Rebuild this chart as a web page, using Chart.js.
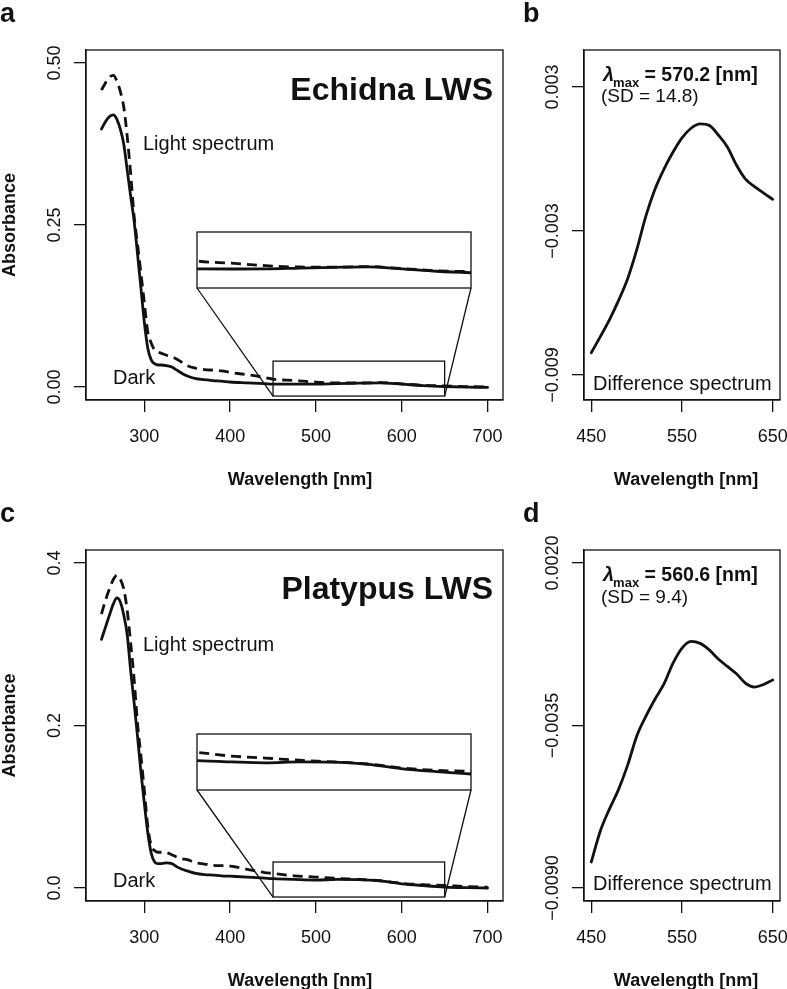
<!DOCTYPE html>
<html>
<head>
<meta charset="utf-8">
<title>LWS absorbance spectra</title>
<script src="https://cdn.jsdelivr.net/npm/chart.js@4.4.0/dist/chart.umd.min.js"></script>
<style>
  html, body { margin: 0; padding: 0; background: #fff; }
  #fig { position: relative; width: 787px; height: 989px; overflow: hidden; background: #fff; }
  #fig canvas { position: absolute; }
</style>
</head>
<body>
<div id="fig">
  <canvas id="pa" width="520" height="495" style="left:0px;top:0px"></canvas>
  <canvas id="pb" width="267" height="495" style="left:520px;top:0px"></canvas>
  <canvas id="pc" width="520" height="489" style="left:0px;top:500px"></canvas>
  <canvas id="pd" width="267" height="489" style="left:520px;top:500px"></canvas>
</div>
<script>
// wavelength grid (nm) for the full absorbance spectra
const WL = [250, 255, 260, 264, 268, 272, 276, 280, 284, 288, 292, 296, 300, 304, 308, 312, 316, 320, 326, 332,
            338, 344, 350, 360, 370, 380, 390, 400, 420, 440, 450, 475, 500, 525, 550, 575, 600, 625, 650, 675, 700];

// panel a - echidna LWS
const ECHIDNA_DARK = [0.398, 0.410, 0.418, 0.420, 0.413, 0.398, 0.375, 0.335, 0.295, 0.257, 0.206, 0.153, 0.100, 0.060,
                      0.042, 0.036, 0.034, 0.034, 0.033, 0.031, 0.026, 0.021, 0.017, 0.013, 0.0115, 0.010, 0.009,
                      0.0078, 0.0065, 0.0052, 0.0045, 0.0044, 0.0045, 0.0053, 0.0060, 0.0065, 0.0045, 0.0022,
                      0.0008, 0.0000, -0.0005];
const ECHIDNA_LIGHT = [0.458, 0.470, 0.479, 0.481, 0.472, 0.456, 0.432, 0.387, 0.330, 0.265, 0.221, 0.176, 0.130, 0.085,
                       0.068, 0.057, 0.054, 0.052, 0.049, 0.047, 0.043, 0.038, 0.033, 0.029, 0.027, 0.026, 0.025,
                       0.0225, 0.019, 0.0148, 0.0121, 0.0100, 0.0076, 0.0063, 0.0062, 0.0067, 0.0048, 0.0027,
                       0.0018, 0.0007, 0.0002];

// panel c - platypus LWS
const PLATYPUS_DARK = [0.306, 0.322, 0.338, 0.350, 0.357, 0.352, 0.336, 0.312, 0.268, 0.229, 0.187, 0.143, 0.104, 0.068,
                       0.043, 0.032, 0.030, 0.030, 0.031, 0.030, 0.026, 0.023, 0.021, 0.018, 0.0165, 0.0158, 0.015,
                       0.0145, 0.0135, 0.0122, 0.0115, 0.0105, 0.0098, 0.0105, 0.0103, 0.0087, 0.0052, 0.0030,
                       0.0012, 0.0004, 0.0000];
const PLATYPUS_LIGHT = [0.337, 0.355, 0.370, 0.380, 0.385, 0.380, 0.368, 0.342, 0.302, 0.258, 0.203, 0.163, 0.120, 0.076,
                        0.052, 0.046, 0.044, 0.044, 0.0435, 0.041, 0.038, 0.036, 0.035, 0.031, 0.0295, 0.028, 0.0275,
                        0.027, 0.023, 0.019, 0.0179, 0.0150, 0.0135, 0.0118, 0.0105, 0.0089, 0.0058, 0.0040,
                        0.0032, 0.0018, 0.0010];

// panels b, d - difference spectra
const WL_DIFF = [450, 460, 470, 480, 490, 500, 510, 520, 530, 540, 550, 560, 570, 580, 590, 600, 610, 620, 630, 640, 650];
const ECHIDNA_DIFF = [-0.00807, -0.0074, -0.0067, -0.0059, -0.0050, -0.0038, -0.0024, -0.00128, -0.00043, 0.00028,
                      0.00088, 0.00128, 0.00146, 0.0014, 0.0010, 0.0005, -0.00025, -0.00084, -0.00115, -0.00142, -0.00168];
const PLATYPUS_DIFF = [-0.00812, -0.00707, -0.00633, -0.00567, -0.00485, -0.00387, -0.0032, -0.00262, -0.0021, -0.0014,
                       -0.00088, -0.00065, -0.00072, -0.00094, -0.00125, -0.0015, -0.00175, -0.00207, -0.0022, -0.00211, -0.00196];

// axes
const X_TICKS_FULL = [300, 400, 500, 600, 700];
const X_TICKS_DIFF = [450, 550, 650];
const Y_TICKS_A = [0, 0.25, 0.5];
const Y_LABELS_A = ['0.00', '0.25', '0.50'];
const Y_TICKS_B = [-0.009, -0.003, 0.003];
const Y_LABELS_B = ['\u22120.009', '\u22120.003', '0.003'];
const Y_TICKS_C = [0, 0.2, 0.4];
const Y_LABELS_C = ['0.0', '0.2', '0.4'];
const Y_TICKS_D = [-0.009, -0.0035, 0.002];
const Y_LABELS_D = ['\u22120.0090', '\u22120.0035', '0.0020'];

// zoomed window (data units) and where its enlargement sits (data units of the main panel)
const ZOOM_WL = [450, 650];
const INSET_WL = [361.6, 681];
const ZOOM_ABS_A = [-0.0139, 0.040];
const INSET_ABS_A = [0.153, 0.239];
const ZOOM_ABS_C = [-0.0111, 0.032];
const INSET_ABS_C = [0.121, 0.190];

const INK = '#111';
const FONT = '"Liberation Sans", Arial, Helvetica, sans-serif';
const fig = document.getElementById('fig');

function points(xs, ys) {
    return xs.map((x, i) => ({ x: x, y: ys[i] }));
}

function lineSet(xs, ys, dashed) {
    return {
        data: points(xs, ys),
        borderColor: INK,
        borderWidth: 2.8,
        borderDash: dashed ? [10, 6] : [],
        borderCapStyle: dashed ? 'butt' : 'round',
        borderJoinStyle: 'round',
        pointRadius: 0,
        fill: false,
        cubicInterpolationMode: 'monotone'
    };
}

// R-like frame: box, outside tick labels, titles and annotations
function framePlugin(cfg) {
    return {
        id: 'frame',
        afterDraw(chart) {
            const { ctx, chartArea: ca } = chart;
            const sx = chart.scales.x, sy = chart.scales.y;
            ctx.save();
            ctx.strokeStyle = INK;
            ctx.lineWidth = 1.3;
            ctx.strokeRect(ca.left, ca.top, ca.right - ca.left, ca.bottom - ca.top);

            if (cfg.zoom) {
                const zx0 = sx.getPixelForValue(ZOOM_WL[0]), zx1 = sx.getPixelForValue(ZOOM_WL[1]);
                const zyTop = sy.getPixelForValue(cfg.zoom.abs[1]), zyBot = sy.getPixelForValue(cfg.zoom.abs[0]);
                ctx.strokeRect(zx0, zyTop, zx1 - zx0, zyBot - zyTop);
                const bx0 = Math.round(sx.getPixelForValue(INSET_WL[0]));
                const bx1 = Math.round(sx.getPixelForValue(INSET_WL[1]));
                const byBot = Math.round(sy.getPixelForValue(cfg.zoom.inset[0]));
                ctx.beginPath();
                ctx.moveTo(bx0, byBot); ctx.lineTo(zx0, zyBot);
                ctx.moveTo(bx1, byBot); ctx.lineTo(zx1, zyBot);
                ctx.stroke();
            }

            ctx.fillStyle = INK;
            ctx.textAlign = 'center';
            ctx.textBaseline = 'alphabetic';
            ctx.font = '18px ' + FONT;
            sx.ticks.forEach(t => {
                ctx.fillText(String(t.value), sx.getPixelForValue(t.value), ca.bottom + 41.5);
            });
            sy.ticks.forEach((t, i) => {
                ctx.save();
                ctx.translate(ca.left - 26.5, sy.getPixelForValue(t.value));
                ctx.rotate(-Math.PI / 2);
                ctx.fillText(cfg.yLabels[i], 0, 0);
                ctx.restore();
            });

            ctx.font = 'bold 18px ' + FONT;
            ctx.fillText('Wavelength [nm]', cfg.xTitleX, ca.bottom + 84.5);
            if (cfg.yTitle) {
                ctx.save();
                ctx.translate(15, (ca.top + ca.bottom) / 2);
                ctx.rotate(-Math.PI / 2);
                ctx.fillText(cfg.yTitle, 0, 0);
                ctx.restore();
            }

            ctx.textAlign = 'left';
            ctx.font = 'bold 27px ' + FONT;
            ctx.fillText(cfg.letter.t, cfg.letter.x, cfg.letter.y);

            (cfg.texts || []).forEach(tx => {
                ctx.font = tx.font;
                ctx.textAlign = tx.align || 'left';
                ctx.fillText(tx.t, tx.x, tx.y);
            });

            if (cfg.lambda) {
                const l = cfg.lambda;
                ctx.textAlign = 'left';
                ctx.font = 'italic bold 20px ' + FONT;
                ctx.fillText('\u03bb', l.x, l.y);
                let xx = l.x + ctx.measureText('\u03bb').width - 1;
                ctx.font = 'bold 13px ' + FONT;
                ctx.fillText('max', xx, l.y + 6);
                xx += ctx.measureText('max').width;
                ctx.font = 'bold 19.5px ' + FONT;
                ctx.fillText(' = ' + l.value + ' [nm]', xx, l.y);
                ctx.font = '19px ' + FONT;
                ctx.fillText('(SD = ' + l.sd + ')', l.x - 2, l.sdY);
            }
            ctx.restore();
        }
    };
}

function axis(min, max, ticks, isX) {
    return {
        type: 'linear',
        min: min,
        max: max,
        afterBuildTicks: s => { s.ticks = ticks.map(v => ({ value: v })); },
        afterFit: s => { if (isX) { s.height = 60; } else { s.width = 12; } },
        grid: { drawOnChartArea: false, drawTicks: true, tickLength: 12, color: INK, lineWidth: 1.3 },
        border: { display: true, color: INK, width: 1.3 },
        ticks: { display: false }
    };
}

function makePanel(id, p) {
    return new Chart(document.getElementById(id), {
        type: 'line',
        data: { datasets: p.datasets },
        options: {
            animation: false,
            responsive: false,
            events: [],
            layout: { padding: p.padding },
            plugins: { legend: { display: false }, tooltip: { enabled: false } },
            scales: {
                x: axis(p.xRange[0], p.xRange[1], p.xTicks, true),
                y: axis(p.yRange[0], p.yRange[1], p.yTicks, false)
            }
        },
        plugins: [framePlugin(p.frame)]
    });
}

// enlargement of the 450-650 nm window, placed from the main panel's own scales
function makeInset(main, offX, offY, dark, light, zoomAbs, insetAbs) {
    const M = 2;
    const sx = main.scales.x, sy = main.scales.y;
    const x0 = Math.round(sx.getPixelForValue(INSET_WL[0]));
    const x1 = Math.round(sx.getPixelForValue(INSET_WL[1]));
    const yTop = Math.round(sy.getPixelForValue(insetAbs[1]));
    const yBot = Math.round(sy.getPixelForValue(insetAbs[0]));
    const cv = document.createElement('canvas');
    cv.width = x1 - x0 + 2 * M;
    cv.height = yBot - yTop + 2 * M;
    cv.style.left = (offX + x0 - M) + 'px';
    cv.style.top = (offY + yTop - M) + 'px';
    fig.appendChild(cv);
    return new Chart(cv, {
        type: 'line',
        data: { datasets: [lineSet(WL, light, true), lineSet(WL, dark, false)] },
        options: {
            animation: false,
            responsive: false,
            events: [],
            layout: { padding: M },
            plugins: { legend: { display: false }, tooltip: { enabled: false } },
            scales: {
                x: { type: 'linear', display: false, min: ZOOM_WL[0], max: ZOOM_WL[1] },
                y: { type: 'linear', display: false, min: zoomAbs[0], max: zoomAbs[1] }
            }
        },
        plugins: [{
            id: 'insetBox',
            afterDraw(chart) {
                const { ctx, chartArea: ca } = chart;
                ctx.save();
                ctx.strokeStyle = INK;
                ctx.lineWidth = 1.3;
                ctx.strokeRect(ca.left, ca.top, ca.right - ca.left, ca.bottom - ca.top);
                ctx.restore();
            }
        }]
    });
}

const chartA = makePanel('pa', {
    datasets: [lineSet(WL, ECHIDNA_LIGHT, true), lineSet(WL, ECHIDNA_DARK, false)],
    padding: { left: 74, top: 50, right: 17, bottom: 35 },
    xRange: [232, 718], xTicks: X_TICKS_FULL,
    yRange: [-0.02, 0.52], yTicks: Y_TICKS_A,
    frame: {
        yLabels: Y_LABELS_A, yTitle: 'Absorbance', xTitleX: 300,
        letter: { t: 'a', x: 0, y: 22 },
        zoom: { abs: ZOOM_ABS_A, inset: INSET_ABS_A },
        texts: [
            { t: 'Echidna LWS', x: 493, y: 100, font: 'bold 32px ' + FONT, align: 'right' },
            { t: 'Light spectrum', x: 143, y: 150, font: '20px ' + FONT },
            { t: 'Dark', x: 113, y: 384, font: '20px ' + FONT }
        ]
    }
});

const chartB = makePanel('pb', {
    datasets: [lineSet(WL_DIFF, ECHIDNA_DIFF, false)],
    padding: { left: 52, top: 50, right: 7, bottom: 35 },
    xRange: [442, 658], xTicks: X_TICKS_DIFF,
    yRange: [-0.01004, 0.00454], yTicks: Y_TICKS_B,
    frame: {
        yLabels: Y_LABELS_B, xTitleX: 166,
        letter: { t: 'b', x: 3, y: 22 },
        lambda: { value: '570.2', sd: '14.8', x: 83, y: 81, sdY: 102 },
        texts: [{ t: 'Difference spectrum', x: 73, y: 390, font: '20px ' + FONT }]
    }
});

const chartC = makePanel('pc', {
    datasets: [lineSet(WL, PLATYPUS_LIGHT, true), lineSet(WL, PLATYPUS_DARK, false)],
    padding: { left: 74, top: 50, right: 17, bottom: 28 },
    xRange: [232, 718], xTicks: X_TICKS_FULL,
    yRange: [-0.016, 0.416], yTicks: Y_TICKS_C,
    frame: {
        yLabels: Y_LABELS_C, yTitle: 'Absorbance', xTitleX: 300,
        letter: { t: 'c', x: 0, y: 22 },
        zoom: { abs: ZOOM_ABS_C, inset: INSET_ABS_C },
        texts: [
            { t: 'Platypus LWS', x: 493, y: 99, font: 'bold 32px ' + FONT, align: 'right' },
            { t: 'Light spectrum', x: 143, y: 151, font: '20px ' + FONT },
            { t: 'Dark', x: 113, y: 387, font: '20px ' + FONT }
        ]
    }
});

const chartD = makePanel('pd', {
    datasets: [lineSet(WL_DIFF, PLATYPUS_DIFF, false)],
    padding: { left: 52, top: 50, right: 7, bottom: 28 },
    xRange: [442, 658], xTicks: X_TICKS_DIFF,
    yRange: [-0.00944, 0.00244], yTicks: Y_TICKS_D,
    frame: {
        yLabels: Y_LABELS_D, xTitleX: 166,
        letter: { t: 'd', x: 3, y: 22 },
        lambda: { value: '560.6', sd: '9.4', x: 83, y: 80.7, sdY: 103 },
        texts: [{ t: 'Difference spectrum', x: 73, y: 390, font: '20px ' + FONT }]
    }
});

makeInset(chartA, 0, 0, ECHIDNA_DARK, ECHIDNA_LIGHT, ZOOM_ABS_A, INSET_ABS_A);
makeInset(chartC, 0, 500, PLATYPUS_DARK, PLATYPUS_LIGHT, ZOOM_ABS_C, INSET_ABS_C);
</script>
</body>
</html>
